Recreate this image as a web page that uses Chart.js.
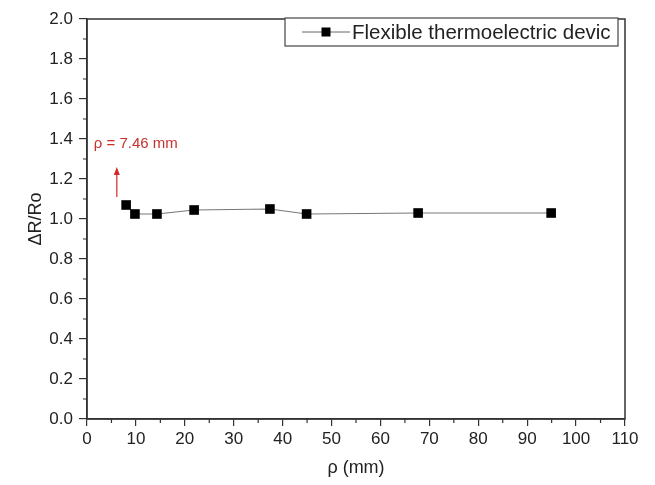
<!DOCTYPE html>
<html>
<head>
<meta charset="utf-8">
<script src="https://cdn.jsdelivr.net/npm/chart.js@4/dist/chart.umd.min.js"></script>
<style>
  html, body { margin: 0; padding: 0; background: #fff; overflow: hidden; }
  canvas { display: block; }
</style>
</head>
<body>
<canvas id="grafico" width="655" height="485"></canvas>
<script>
// data
const radios = [8.0, 9.8, 14.3, 21.9, 37.4, 44.9, 67.7, 94.9];
const resistencia = [1.07, 1.025, 1.025, 1.045, 1.05, 1.025, 1.03, 1.03];
const xTicks = [0, 10, 20, 30, 40, 50, 60, 70, 80, 90, 100, 110];
const yTicks = [0.0, 0.2, 0.4, 0.6, 0.8, 1.0, 1.2, 1.4, 1.6, 1.8, 2.0];
const serieNombre = "Flexible thermoelectric devic";
const notaTexto = "\u03C1 = 7.46 mm";
const notaX = 6.1;
const flechaDesde = 1.11;
const flechaHasta = 1.26;
const notaY = 1.375;

const fuente = "'Liberation Sans', Arial, sans-serif";
const ctx = document.getElementById("grafico").getContext("2d");

const puntos = radios.map((r, i) => ({ x: r, y: resistencia[i] }));

// minor ticks, box, legend and the red note
const extras = {
    id: "extras",
    afterDraw(chart) {
        const c = chart.ctx;
        const a = chart.chartArea;
        const sx = chart.scales.x;
        const sy = chart.scales.y;
        c.save();
        c.strokeStyle = "#333";
        c.lineWidth = 1.5;
        c.strokeRect(a.left, a.top, a.right - a.left, a.bottom - a.top);
        c.lineWidth = 1.2;
        c.beginPath();
        for (let v = 5; v < 110; v += 10) {
            const px = sx.getPixelForValue(v);
            c.moveTo(px, a.bottom);
            c.lineTo(px, a.bottom + 4);
        }
        for (let v = 0.1; v < 2; v += 0.2) {
            const py = sy.getPixelForValue(v);
            c.moveTo(a.left, py);
            c.lineTo(a.left - 4, py);
        }
        c.stroke();

        // legend
        const lx = 285, ly = 18, lw = 333, lh = 28;
        c.fillStyle = "#fff";
        c.fillRect(lx, ly, lw, lh);
        c.strokeStyle = "#444";
        c.lineWidth = 1.2;
        c.strokeRect(lx, ly, lw, lh);
        const my = ly + lh / 2;
        c.strokeStyle = "#666";
        c.lineWidth = 1;
        c.beginPath();
        c.moveTo(302, my);
        c.lineTo(350, my);
        c.stroke();
        c.fillStyle = "#000";
        c.fillRect(321.5, my - 4.5, 9, 9);
        c.fillStyle = "#222";
        c.font = "20.5px " + fuente;
        c.textBaseline = "middle";
        c.textAlign = "left";
        c.fillText(serieNombre, 352, my + 1);

        // red arrow and note
        const ax = sx.getPixelForValue(notaX);
        const y0 = sy.getPixelForValue(flechaDesde);
        const y1 = sy.getPixelForValue(flechaHasta);
        c.strokeStyle = "#d62728";
        c.fillStyle = "#d62728";
        c.lineWidth = 1.2;
        c.beginPath();
        c.moveTo(ax, y0);
        c.lineTo(ax, y1 + 6);
        c.stroke();
        c.beginPath();
        c.moveTo(ax, y1);
        c.lineTo(ax - 3, y1 + 8);
        c.lineTo(ax + 3, y1 + 8);
        c.closePath();
        c.fill();
        c.fillStyle = "#c8302c";
        c.font = "15px " + fuente;
        c.textAlign = "left";
        c.fillText(notaTexto, sx.getPixelForValue(1.4), sy.getPixelForValue(notaY));
        c.restore();
    },
};

new Chart(ctx, {
    type: "scatter",
    data: {
        datasets: [
            {
                label: serieNombre,
                data: puntos,
                showLine: true,
                borderColor: "#777",
                borderWidth: 1.2,
                pointStyle: "rect",
                pointRadius: 6.8,
                pointHoverRadius: 6.8,
                pointBackgroundColor: "#000",
                pointBorderColor: "#000",
                pointBorderWidth: 0,
            },
        ],
    },
    options: {
        responsive: false,
        animation: false,
        devicePixelRatio: 1,
        events: [],
        layout: { padding: { top: 19, right: 30, left: 0, bottom: 0 } },
        plugins: {
            legend: { display: false },
            tooltip: { enabled: false },
        },
        scales: {
            x: {
                type: "linear",
                min: 0,
                max: 110,
                afterBuildTicks: (s) => { s.ticks = xTicks.map((v) => ({ value: v })); },
                afterFit: (s) => { s.height = 66; },
                border: { display: true, color: "#333", width: 1.5 },
                grid: { drawOnChartArea: false, drawTicks: true, tickLength: 7, color: "#333", lineWidth: 1.2 },
                ticks: { color: "#222", font: { family: fuente, size: 17 }, padding: 3, maxRotation: 0, autoSkip: false },
                title: { display: true, text: "\u03C1 (mm)", color: "#222", font: { family: fuente, size: 18 }, padding: { top: 4, bottom: 6 } },
            },
            y: {
                type: "linear",
                min: 0,
                max: 2,
                afterBuildTicks: (s) => { s.ticks = yTicks.map((v) => ({ value: v })); },
                afterFit: (s) => { s.width = 87; },
                border: { display: true, color: "#333", width: 1.5 },
                grid: { drawOnChartArea: false, drawTicks: true, tickLength: 8, color: "#333", lineWidth: 1.2 },
                ticks: { color: "#222", font: { family: fuente, size: 17 }, padding: 6, autoSkip: false, callback: (v) => Number(v).toFixed(1) },
                title: { display: true, text: "\u0394R/Ro", color: "#222", font: { family: fuente, size: 18 }, padding: { top: 25, bottom: 0 } },
            },
        },
    },
    plugins: [extras],
});
</script>
</body>
</html>
